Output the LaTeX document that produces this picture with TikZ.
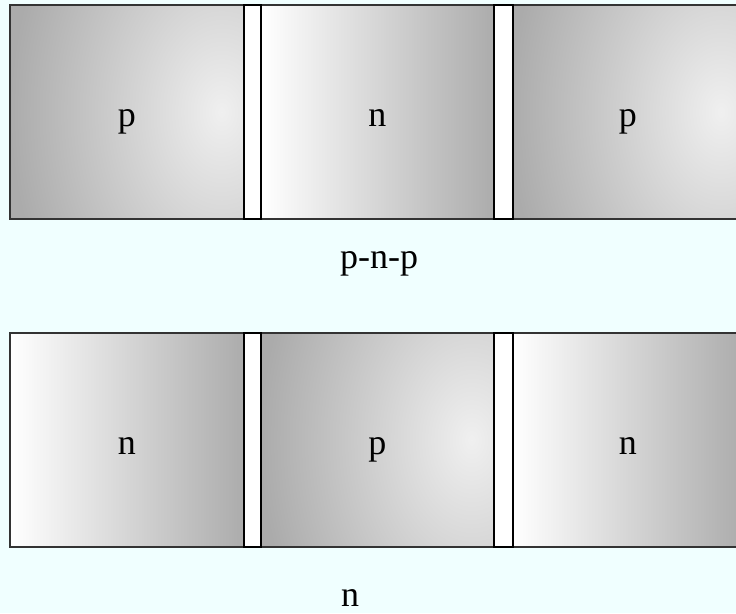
\documentclass[tikz,border=0pt]{standalone}
\usepackage{fontspec}
\setmainfont{Liberation Serif}
\usepackage{xcolor}
\usepackage{tikz}
\usetikzlibrary{positioning}

\definecolor{azurebg}{HTML}{F0FFFF}

\tikzset{
  p zone/.style={draw=black!80, line width=1.3pt, inner sep=0pt, minimum height=214pt,
    fill=gray!66,
    path picture={\shade[inner color=gray!12, outer color=gray!66]
      ([xshift=-22pt]path picture bounding box.east) ellipse (212pt and 300pt);}},
  n zone/.style={draw=black!80, line width=1.3pt, inner sep=0pt, minimum height=214pt,
    left color=white, right color=gray!65},
  gap zone/.style={draw=black, line width=2pt, fill=white, inner sep=0pt, minimum height=214pt},
  lbl/.style={font=\fontsize{36}{40}\selectfont, inner sep=0pt, anchor=base}
}

\begin{document}
\begin{tikzpicture}[x=1pt,y=1pt]
  \fill[azurebg] (0,0) rectangle (736,613);
  \useasboundingbox (0,0) rectangle (736,613);
  \foreach \r/\y/\a/\b/\c in {top/501/p/n/p, bot/173/n/p/n}
  { \node[\a\space zone, minimum width=233.5pt] (\r1) at (126.75,\y) {};
    \node[\b\space zone, minimum width=232.5pt] (\r2) at (377.25,\y) {};
    \node[\c\space zone, minimum width=230.5pt] (\r3) at (627.75,\y) {};
    \node[gap zone, minimum width=17.5pt] (\r-gapA) at (252.25,\y) {};
    \node[gap zone, minimum width=19pt] (\r-gapB) at (503,\y) {};
    \node[lbl] (\r1-lab) at ([yshift=-15pt]\r1.center) {\a};
    \node[lbl] (\r2-lab) at ([yshift=-15pt]\r2.center) {\b};
    \node[lbl] (\r3-lab) at ([yshift=-15pt]\r3.center) {\c}; }
  % captions under each row
  \node[lbl, anchor=base west] (cap-top) at (340,344) {p-n-p};
  \node[lbl, anchor=base west] (cap-bot) at (341,7) {n};
\end{tikzpicture}
\end{document}
